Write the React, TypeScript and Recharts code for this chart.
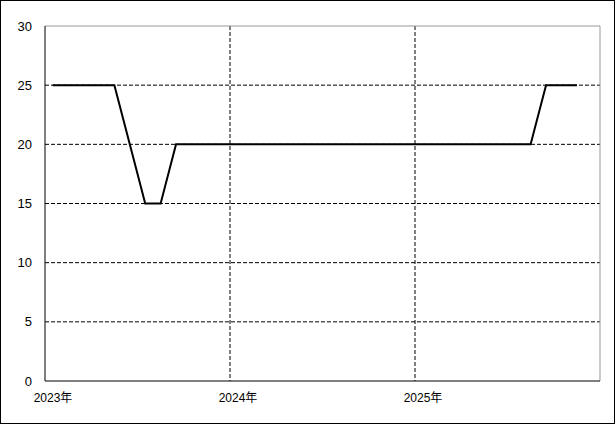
import React from "react";
import {
  LineChart,
  Line,
  XAxis,
  YAxis,
  CartesianGrid,
  ReferenceLine,
} from "recharts";

// monthly values, Jan 2023 .. Nov 2025
const months = [
  "2023-01", "2023-02", "2023-03", "2023-04", "2023-05", "2023-06",
  "2023-07", "2023-08", "2023-09", "2023-10", "2023-11", "2023-12",
  "2024-01", "2024-02", "2024-03", "2024-04", "2024-05", "2024-06",
  "2024-07", "2024-08", "2024-09", "2024-10", "2024-11", "2024-12",
  "2025-01", "2025-02", "2025-03", "2025-04", "2025-05", "2025-06",
  "2025-07", "2025-08", "2025-09", "2025-10", "2025-11",
];
const values = [
  25, 25, 25, 25, 25, 20, 15, 15, 20, 20, 20, 20,
  20, 20, 20, 20, 20, 20, 20, 20, 20, 20, 20, 20,
  20, 20, 20, 20, 20, 20, 20, 20, 25, 25, 25,
];
const yearTicks = [0, 12, 24];
const yearLabels = ["2023年", "2024年", "2025年"];
const yTicks = [0, 5, 10, 15, 20, 25, 30];

const data = months.map((m, i) => ({ month: m, x: i + 0.5, value: values[i] }));

const font = "'Liberation Sans', 'Noto Sans CJK JP', sans-serif";

export default function App() {
  return (
    <div
      style={{
        position: "absolute",
        left: 0,
        top: 0,
        width: 615,
        height: 424,
        boxSizing: "border-box",
        border: "1px solid #000",
        background: "#fff",
        fontFamily: font,
      }}
    >
      <LineChart
        width={613}
        height={422}
        data={data}
        margin={{ top: 25, right: 14, bottom: 12, left: 0 }}
      >
        <CartesianGrid
          stroke="#000"
          strokeDasharray="4 2"
          horizontalValues={[5, 10, 15, 20, 25]}
          verticalValues={[12, 24]}
        />
        <XAxis
          type="number"
          dataKey="x"
          domain={[0, 36]}
          ticks={yearTicks}
          tickFormatter={(v: number) => yearLabels[yearTicks.indexOf(v)]}
          height={30}
          tickLine={false}
          tickSize={0}
          tickMargin={12}
          axisLine={{ stroke: "#000", strokeWidth: 1 }}
          tick={{ fill: "#000", fontSize: 12, fontFamily: font, dx: 8 }}
        />
        <YAxis
          domain={[0, 30]}
          ticks={yTicks}
          width={44}
          tickLine={false}
          tickSize={0}
          tickMargin={13}
          axisLine={{ stroke: "#000", strokeWidth: 1 }}
          tick={{ fill: "#000", fontSize: 13, fontFamily: font }}
        />
        <ReferenceLine y={30} stroke="#999" />
        <ReferenceLine x={36} stroke="#999" />
        <Line
          type="linear"
          dataKey="value"
          stroke="#000"
          strokeWidth={2}
          dot={false}
          isAnimationActive={false}
        />
      </LineChart>
    </div>
  );
}
